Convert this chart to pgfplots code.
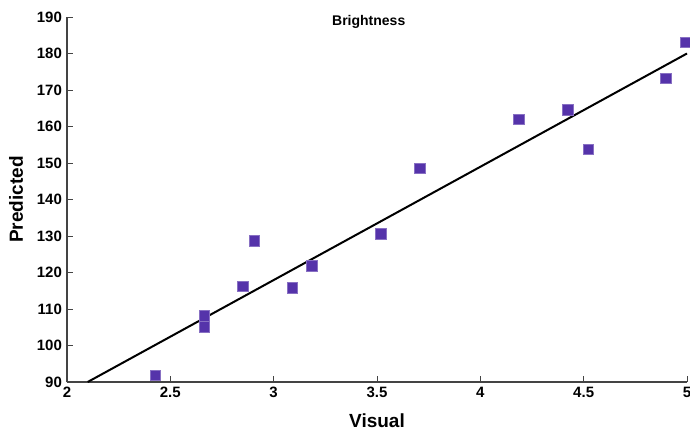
\documentclass[border=0pt]{standalone}
\usepackage{pgfplots}
\pgfplotsset{compat=1.18}
\usepackage{fontspec}
\setmainfont{Liberation Sans}
\usetikzlibrary{calc}
\definecolor{markblue}{HTML}{5533AA}
\definecolor{axisgray}{HTML}{444444}

\begin{document}
\begin{tikzpicture}
\begin{axis}[
  name=ax,
  scale only axis,
  width=310pt, height=182.5pt,
  xmin=2, xmax=5, ymin=90, ymax=190,
  axis x line*=bottom, axis y line*=left,
  axis line style={axisgray, line width=0.6pt},
  xtick={2,2.5,...,5}, ytick={90,100,...,190},
  xticklabels={2,2.5,3,3.5,4,4.5,5},
  tick style={axisgray, line width=0.5pt},
  tick align=inside,
  major tick length=3pt,
  tick label style={font=\bfseries\fontsize{7.5}{8}\selectfont},
  /pgf/number format/assume math mode=true,
  xticklabel style={yshift=1pt},
  yticklabel style={xshift=1pt},
  xlabel={\bfseries Visual},
  ylabel={\bfseries Predicted},
  label style={font=\bfseries\fontsize{9.5}{10}\selectfont},
  xlabel style={yshift=-1pt},
  ylabel style={yshift=0pt},
  clip=false,
]
\node[font=\bfseries\fontsize{7}{8}\selectfont, anchor=north] at (axis cs:3.46,192.5) {Brightness};
% fitted line
\addplot[black, line width=1pt] coordinates {(2.1,90) (5,180)};
% observations
\addplot[only marks, mark=square*, mark size=2.6pt,
  mark options={fill=markblue, draw=markblue!70!white, line width=0.3pt}]
  coordinates {
  (2.426,91.9) (2.663,108.1) (2.663,105.1) (2.851,116.3) (2.905,128.7)
  (3.089,115.8) (3.185,121.8) (3.519,130.6) (3.708,148.5) (4.187,161.9)
  (4.424,164.6) (4.521,153.7) (4.898,173.2) (4.995,183.0)
  };
\end{axis}
\pgfresetboundingbox
\path[use as bounding box] ($(ax.south west)+(-33.5pt,-23.5pt)$) rectangle ($(ax.north east)+(1.5pt,8.5pt)$);
\end{tikzpicture}
\end{document}
